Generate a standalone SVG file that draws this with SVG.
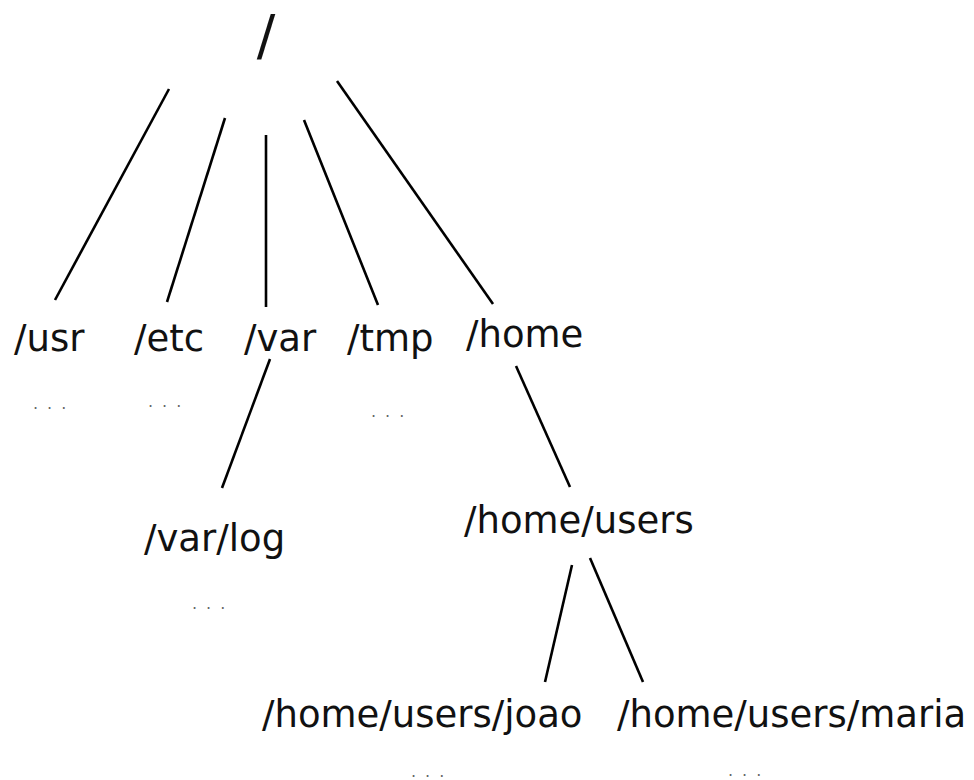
<svg xmlns="http://www.w3.org/2000/svg" width="974" height="780" viewBox="0 0 974 780">
<style>
.lbl{font-family:"DejaVu Sans",sans-serif;font-size:37px;fill:#111;}
.root{font-family:"DejaVu Sans",sans-serif;font-size:55px;fill:#111;}
.dots{font-family:"DejaVu Sans",sans-serif;font-size:16px;fill:#666;letter-spacing:9px;}
.edge{stroke:#000;stroke-width:2.6;stroke-linecap:butt;fill:none;}
</style>
<rect width="974" height="780" fill="#fff"/>
<g id="connectors">
<line class="edge" x1="169" y1="89" x2="55" y2="300"/>
<line class="edge" x1="225" y1="118" x2="167" y2="302"/>
<line class="edge" x1="266" y1="135" x2="266" y2="307"/>
<line class="edge" x1="304" y1="120" x2="378" y2="305"/>
<line class="edge" x1="337" y1="81" x2="493" y2="304"/>
<line class="edge" x1="270" y1="359" x2="222" y2="488"/>
<line class="edge" x1="516" y1="366" x2="570" y2="487"/>
<line class="edge" x1="572" y1="565" x2="545" y2="682"/>
<line class="edge" x1="590" y1="558" x2="643" y2="682"/>
</g>
<g id="root"><text class="root" x="266" y="54" text-anchor="middle">/</text></g>
<g id="usr"><text class="lbl" x="14" y="351">/usr</text><text class="dots" x="33" y="409">...</text></g>
<g id="etc"><text class="lbl" x="134" y="351">/etc</text><text class="dots" x="148" y="407">...</text></g>
<g id="var"><text class="lbl" x="244" y="351">/var</text></g>
<g id="tmp"><text class="lbl" x="347" y="351">/tmp</text><text class="dots" x="371" y="417">...</text></g>
<g id="home"><text class="lbl" x="466" y="347">/home</text></g>
<g id="varlog"><text class="lbl" x="144" y="551">/var/log</text><text class="dots" x="192" y="609">...</text></g>
<g id="homeusers"><text class="lbl" x="464" y="533">/home/users</text></g>
<g id="joao"><text class="lbl" x="262" y="727">/home/users/joao</text><text class="dots" x="411" y="777">...</text></g>
<g id="maria"><text class="lbl" x="617" y="727">/home/users/maria</text><text class="dots" x="728" y="776">...</text></g>
</svg>
